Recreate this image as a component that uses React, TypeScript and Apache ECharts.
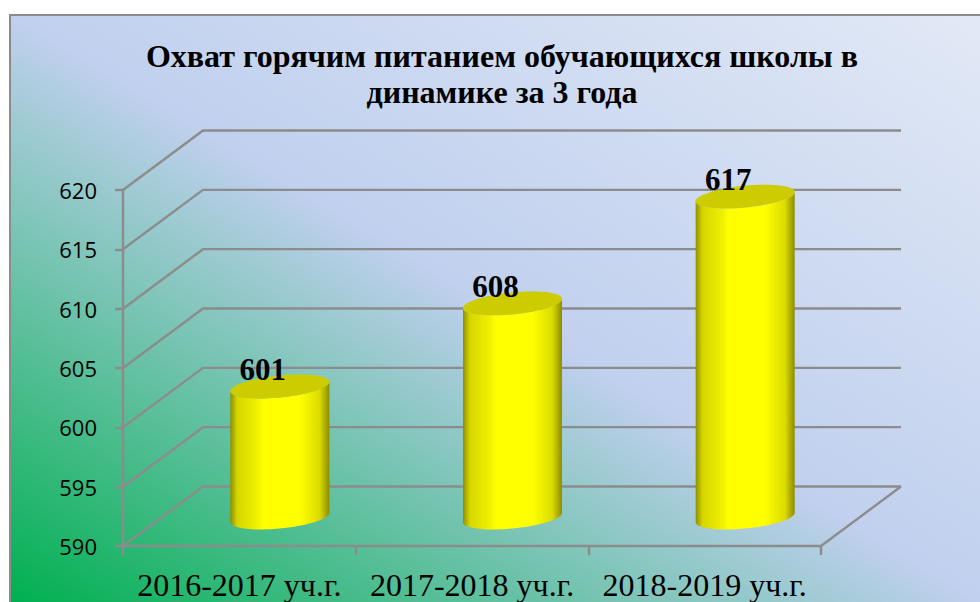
import React, { useEffect, useRef } from "react";
import * as echarts from "echarts";

const titleText = "Охват горячим питанием обучающихся школы в\nдинамике за 3 года";
const categories = ["2016-2017 уч.г.", "2017-2018 уч.г.", "2018-2019 уч.г."];
const pupils = [601, 608, 617];
const valueTicks = [590, 595, 600, 605, 610, 615, 620];

const DEPTH_X = 80;
const DEPTH_Y = -59.5;
const GRID_COLOR = "#8c8c8c";
const LINE_WIDTH = 2.4;
const SERIF = "'Liberation Serif', 'Times New Roman', serif";

function ellipsePoint(cx: number, cy: number, a: number, b: number, t: number) {
  return [cx + a * Math.cos(t), cy + b * Math.sin(t) - 0.095 * a * Math.cos(t)];
}

function renderWalls(params: any, api: any) {
  const value = api.value(1);
  const y = api.coord([0, value])[1];
  const cs = params.coordSys;
  const left = cs.x;
  const right = cs.x + cs.width;
  const style = { stroke: GRID_COLOR, lineWidth: LINE_WIDTH, fill: "none" };
  const children: any[] = [
    {
      type: "polyline",
      shape: { points: [[left, y], [left + DEPTH_X, y + DEPTH_Y], [right + DEPTH_X, y + DEPTH_Y]] },
      style,
    },
  ];
  if (value === valueTicks[0]) {
    children.push({
      type: "line",
      shape: { x1: right, y1: y, x2: right + DEPTH_X, y2: y + DEPTH_Y },
      style,
    });
  }
  return { type: "group", children };
}

function renderCylinder(params: any, api: any) {
  const top = api.coord([api.value(0), api.value(1)]);
  const base = api.coord([api.value(0), valueTicks[0]]);
  const cx = top[0] + 40.5;
  const a = 49.5;
  const b = 11;
  const topY = top[1] - 29;
  const baseY = base[1] - 28.5;
  const topEllipse: number[][] = [];
  for (let i = 0; i <= 72; i++) topEllipse.push(ellipsePoint(cx, topY, a, b, (i * Math.PI) / 36));
  const body: number[][] = [];
  for (let i = 0; i <= 36; i++) body.push(ellipsePoint(cx, baseY, a, b, (i * Math.PI) / 36));
  for (let i = 36; i >= 0; i--) body.push(ellipsePoint(cx, topY, a, b, (i * Math.PI) / 36));
  return {
    type: "group",
    children: [
      {
        type: "polygon",
        shape: { points: body },
        style: {
          fill: new echarts.graphic.LinearGradient(0, 0, 1, 0, [
            { offset: 0, color: "#8f8f00" },
            { offset: 0.07, color: "#d6d600" },
            { offset: 0.27, color: "#f0f000" },
            { offset: 0.33, color: "#ffff00" },
            { offset: 0.7, color: "#ffff00" },
            { offset: 0.9, color: "#dcdc00" },
            { offset: 1, color: "#8c8c00" },
          ]),
        },
      },
      { type: "polygon", shape: { points: topEllipse }, style: { fill: "#cccc00" } },
      {
        type: "text",
        style: {
          x: cx - 17,
          y: topY - 17,
          text: String(api.value(1)),
          font: `bold 31px ${SERIF}`,
          fill: "#000",
          align: "center",
          verticalAlign: "middle",
        },
      },
    ],
  };
}

export default function App() {
  const ref = useRef<HTMLDivElement>(null);
  useEffect(() => {
    const chart = echarts.init(ref.current!, null, { renderer: "svg" });
    chart.setOption({
      animation: false,
      backgroundColor: "#ffffff",
      graphic: [
        {
          type: "rect",
          z: -1,
          silent: true,
          shape: { x: 10, y: 15, width: 980, height: 600 },
          style: {
            stroke: GRID_COLOR,
            lineWidth: 2,
            fill: new echarts.graphic.LinearGradient(10, 602, 530, -257, [
              { offset: 0, color: "#00b050" },
              { offset: 0.5, color: "#c0d0ee" },
              { offset: 1, color: "#e2e9f6" },
            ], true),
          },
        },
      ],
      title: {
        text: titleText,
        left: 497,
        top: 33,
        textAlign: "center",
        textStyle: { fontFamily: SERIF, fontWeight: "bold", fontSize: 32, lineHeight: 36, color: "#000" },
      },
      grid: { left: 123, top: 190, width: 698, height: 356, containLabel: false },
      xAxis: {
        type: "category",
        data: categories,
        axisLine: { lineStyle: { color: GRID_COLOR, width: LINE_WIDTH } },
        axisTick: { show: true, alignWithLabel: false, length: 9, lineStyle: { color: GRID_COLOR, width: LINE_WIDTH } },
        axisLabel: { fontFamily: SERIF, fontSize: 32, color: "#000", margin: 23, interval: 0 },
        splitLine: { show: false },
      },
      yAxis: {
        type: "value",
        min: 590,
        max: 620,
        interval: 5,
        axisLine: { show: true, lineStyle: { color: GRID_COLOR, width: LINE_WIDTH } },
        axisTick: { show: true, length: 8, lineStyle: { color: GRID_COLOR, width: LINE_WIDTH } },
        axisLabel: { fontFamily: "'Open Sans'", fontSize: 22, color: "#000", margin: 26, padding: [6, 0, 0, 0] },
        splitLine: { show: false },
      },
      series: [
        {
          type: "custom",
          z: 1,
          silent: true,
          renderItem: renderWalls,
          data: valueTicks.map((v) => [0, v]),
          encode: { x: 0, y: 1 },
        },
        {
          type: "custom",
          z: 3,
          silent: true,
          renderItem: renderCylinder,
          data: pupils.map((v, i) => [i, v]),
          encode: { x: 0, y: 1 },
        },
      ],
    });
    return () => chart.dispose();
  }, []);
  return <div ref={ref} style={{ position: "fixed", left: 0, top: 0, width: 980, height: 602 }} />;
}
